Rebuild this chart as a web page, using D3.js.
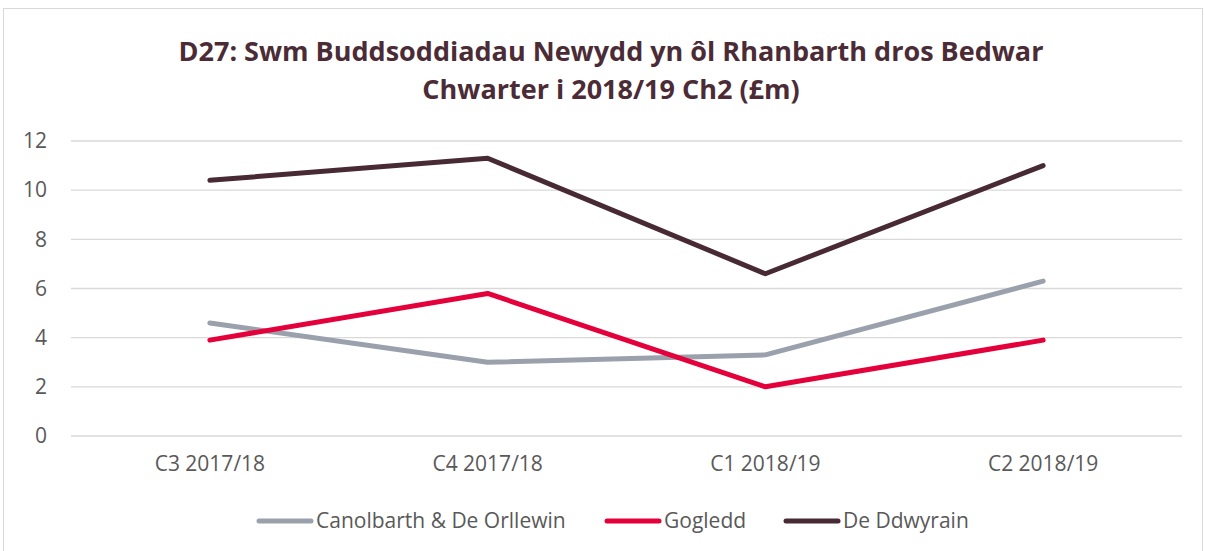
<!DOCTYPE html>
<html>
<head>
<meta charset="utf-8">
<script src="https://cdn.jsdelivr.net/npm/d3@7"></script>
<style>
  body { margin: 0; background: #fff; }
  text { font-family: "Open Sans", Lato, sans-serif; }
</style>
</head>
<body>
<div id="app"></div>
<script>
// Data
const categories = ['C3 2017/18', 'C4 2017/18', 'C1 2018/19', 'C2 2018/19'];
const seriesNames = ['Canolbarth & De Orllewin', 'Gogledd', 'De Ddwyrain'];
const seriesColors = ['#9aa1ad', '#e4003b', '#472a34'];
const canolbarth = [4.6, 3.0, 3.3, 6.3];
const gogledd = [3.9, 5.8, 2.0, 3.9];
const deDdwyrain = [10.4, 11.3, 6.6, 11.0];
const yTicks = [0, 2, 4, 6, 8, 10, 12];
const titleLines = ['D27: Swm Buddsoddiadau Newydd yn ôl Rhanbarth dros Bedwar', 'Chwarter i 2018/19 Ch2 (£m)'];

const series = [canolbarth, gogledd, deDdwyrain].map((values, i) => ({
  name: seriesNames[i], color: seriesColors[i], values
}));

const W = 1205, H = 551;
const margin = { left: 71, right: 23, top: 141, bottom: 115 };

const svg = d3.select('#app').append('svg')
  .attr('width', W).attr('height', H);

// chart border
svg.append('rect')
  .attr('x', 3.5).attr('y', 8.5)
  .attr('width', W - 6).attr('height', H)
  .attr('fill', '#fff').attr('stroke', '#d9d9d9');

// title
svg.append('text')
  .attr('text-anchor', 'middle')
  .attr('font-size', 27).attr('font-weight', 'bold')
  .attr('fill', '#4b2c36')
  .selectAll('tspan').data(titleLines).join('tspan')
  .attr('x', 611)
  .attr('y', (d, i) => 61 + i * 38)
  .text(d => d);

const x = d3.scaleBand()
  .domain(categories)
  .range([margin.left, W - margin.right]);

const y = d3.scaleLinear()
  .domain([0, 12])
  .range([H - margin.bottom, margin.top]);

// gridlines
svg.append('g').selectAll('line').data(yTicks).join('line')
  .attr('x1', margin.left).attr('x2', W - margin.right)
  .attr('y1', d => y(d)).attr('y2', d => y(d))
  .attr('stroke', '#d9d9d9').attr('stroke-width', 1.3);

// y axis labels
const yAxis = svg.append('g')
  .attr('transform', `translate(${margin.left - 24},0)`)
  .call(d3.axisLeft(y).tickValues(yTicks).tickSize(0).tickPadding(0));
yAxis.select('.domain').remove();
yAxis.selectAll('text')
  .attr('font-size', 21).attr('fill', '#595959')
  .style('font-family', '"Open Sans", sans-serif');

// x axis labels
const xAxis = svg.append('g')
  .attr('transform', `translate(0,${y(0) + 20})`)
  .call(d3.axisBottom(x).tickSize(0).tickPadding(0));
xAxis.select('.domain').remove();
xAxis.selectAll('text')
  .attr('font-size', 21).attr('fill', '#595959')
  .style('font-family', '"Open Sans", sans-serif');

// lines
const line = d3.line()
  .x((d, i) => x(categories[i]) + x.bandwidth() / 2)
  .y(d => y(d));

svg.append('g').selectAll('path').data(series).join('path')
  .attr('d', d => line(d.values))
  .attr('fill', 'none')
  .attr('stroke', d => d.color)
  .attr('stroke-width', 5)
  .attr('stroke-linecap', 'round')
  .attr('stroke-linejoin', 'round');

// legend
const legendX = [259, 607, 786];
const legend = svg.append('g').selectAll('g').data(series).join('g')
  .attr('transform', (d, i) => `translate(${legendX[i]},521)`);
legend.append('line')
  .attr('x1', 0).attr('x2', 52)
  .attr('stroke', d => d.color)
  .attr('stroke-width', 5)
  .attr('stroke-linecap', 'round');
legend.append('text')
  .attr('x', 57).attr('dy', '0.35em')
  .attr('font-size', 21).attr('fill', '#595959')
  .text(d => d.name);
</script>
</body>
</html>
